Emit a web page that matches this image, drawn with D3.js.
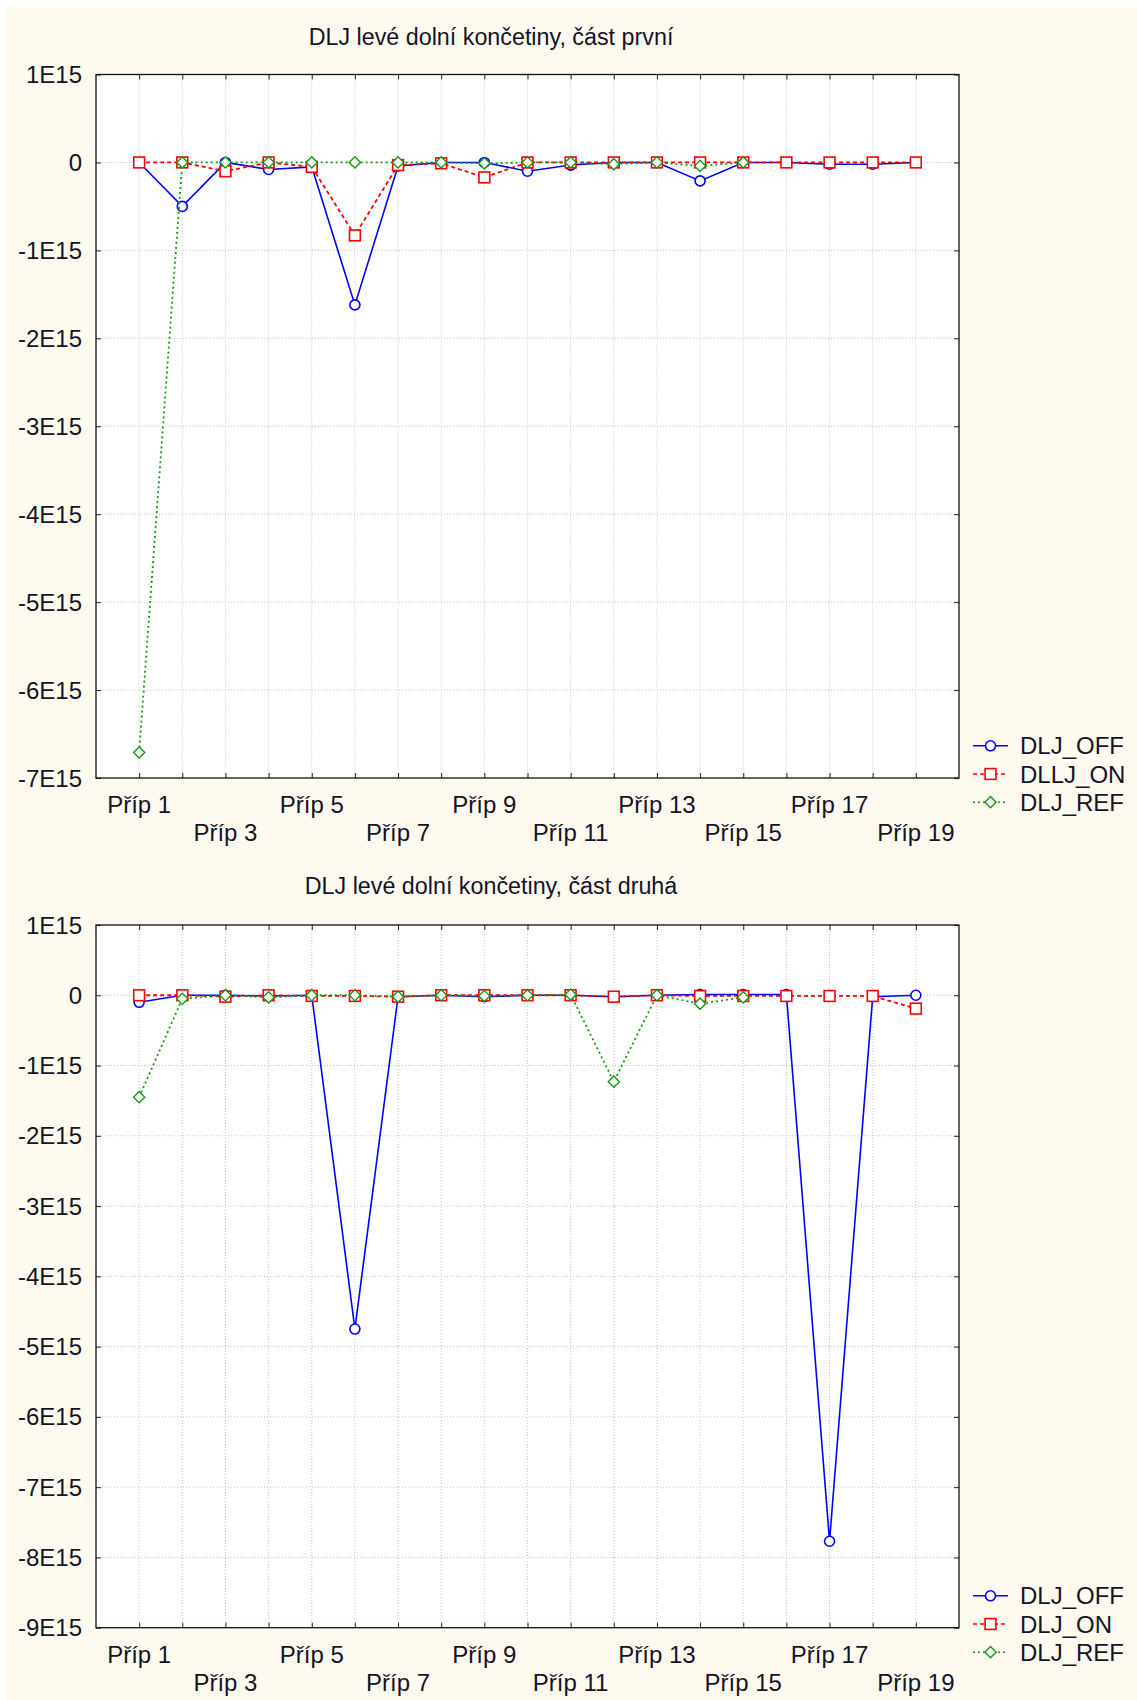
<!DOCTYPE html>
<html>
<head>
<meta charset="utf-8">
<script src="https://cdn.jsdelivr.net/npm/d3@7"></script>
<style>
  html, body { margin: 0; padding: 0; background: #ffffff; }
  svg { display: block; }
  text { font-family: "Liberation Sans", Arial, sans-serif; fill: #141428; }
</style>
</head>
<body>
<svg id="chart" width="1137" height="1700"></svg>
<script>
// ---------- DATA ----------
const categories = ["Příp 1","Příp 2","Příp 3","Příp 4","Příp 5","Příp 6","Příp 7","Příp 8","Příp 9","Příp 10",
                    "Příp 11","Příp 12","Příp 13","Příp 14","Příp 15","Příp 16","Příp 17","Příp 18","Příp 19"];

// chart 1 (values in units of 1E15)
const title1 = "DLJ levé dolní končetiny, část první";
const names1 = ["DLJ_OFF", "DLLJ_ON", "DLJ_REF"];
const off1 = [0, -0.5, 0, -0.08, -0.05, -1.62, -0.04, 0, 0, -0.1, -0.03, 0, 0, -0.21, 0, 0, -0.02, -0.02, 0];
const on1  = [0, 0, -0.1, 0, -0.05, -0.83, -0.03, -0.01, -0.17, 0, 0, 0, 0, 0, 0, 0, 0, 0, 0];
const ref1 = [-6.71, 0, 0, 0, 0, 0, 0, 0, -0.01, 0, 0, -0.02, 0, -0.04, 0, null, null, null, null];
const yTicks1 = [1, 0, -1, -2, -3, -4, -5, -6, -7];

// chart 2 (values in units of 1E15)
const title2 = "DLJ levé dolní končetiny, část druhá";
const names2 = ["DLJ_OFF", "DLJ_ON", "DLJ_REF"];
const off2 = [-0.1, 0, 0, -0.01, 0, -4.75, -0.02, 0, -0.02, 0, 0, -0.02, 0, 0.01, 0.01, 0.01, -7.77, -0.02, 0];
const on2  = [0, 0, -0.02, 0, -0.01, -0.01, -0.02, 0, 0, 0, 0, -0.02, 0, -0.01, -0.01, -0.01, -0.01, -0.01, -0.19];
const ref2 = [-1.45, -0.05, 0, -0.03, 0, 0, -0.02, 0, -0.01, 0, 0.01, -1.23, 0, -0.12, -0.03, null, null, null, null];
const yTicks2 = [1, 0, -1, -2, -3, -4, -5, -6, -7, -8, -9];

// ---------- DRAW ----------
const svg = d3.select("#chart");
svg.append("rect").attr("x", 6).attr("y", 5).attr("width", 1131).attr("height", 1695).attr("fill", "#fffaef");

const styles = [
  { color: "#0000ff", dash: null, marker: "circle" },
  { color: "#ff0000", dash: "4,3", marker: "square" },
  { color: "#139a13", dash: "2,3", marker: "diamond" }
];

function tickLabel(v) { return v === 0 ? "0" : (v + "E15"); }

function drawMarker(g, type, x, y, color) {
  if (type === "circle") {
    g.append("circle").attr("cx", x).attr("cy", y).attr("r", 5)
      .attr("fill", "#fff").attr("stroke", color).attr("stroke-width", 1.6);
  } else if (type === "square") {
    g.append("rect").attr("x", x - 5.4).attr("y", y - 5.4).attr("width", 10.8).attr("height", 10.8)
      .attr("fill", "#fff").attr("stroke", color).attr("stroke-width", 1.6);
  } else {
    const s = 5.6;
    g.append("path").attr("d", `M${x},${y - s}L${x + s},${y}L${x},${y + s}L${x - s},${y}Z`)
      .attr("fill", "#fff").attr("stroke", color).attr("stroke-width", 1.4);
  }
}

function drawChart(cfg) {
  const { top, bottom, yMax, yMin, yTicks, series, names, title, titleY, legendY } = cfg;
  const left = 96, right = 959;
  const x = d3.scaleLinear().domain([0, 20]).range([left, right]);
  const y = d3.scaleLinear().domain([yMin, yMax]).range([bottom, top]);
  const g = svg.append("g");

  g.append("rect").attr("x", left).attr("y", top).attr("width", right - left).attr("height", bottom - top)
    .attr("fill", "#ffffff");

  const grid = g.append("g");
  categories.forEach((c, i) => {
    grid.append("line").attr("x1", x(i + 1)).attr("x2", x(i + 1)).attr("y1", top).attr("y2", bottom)
      .attr("stroke", "#c4c4c4").attr("stroke-width", 1).attr("stroke-dasharray", "1,2");
  });
  yTicks.forEach(t => {
    if (t === yMax || t === yMin) return;
    grid.append("line").attr("x1", left).attr("x2", right).attr("y1", y(t)).attr("y2", y(t))
      .attr("stroke", "#c4c4c4").attr("stroke-width", 1).attr("stroke-dasharray", "1,2");
  });

  const xVals = categories.map((c, i) => i + 1);
  g.append("g").attr("transform", `translate(0,${bottom})`)
    .call(d3.axisBottom(x).tickValues(xVals).tickSize(-5).tickFormat(""))
    .call(a => { a.select(".domain").remove(); a.selectAll("line").attr("stroke", "#222"); });
  g.append("g").attr("transform", `translate(0,${top})`)
    .call(d3.axisTop(x).tickValues(xVals).tickSize(-5).tickFormat(""))
    .call(a => { a.select(".domain").remove(); a.selectAll("line").attr("stroke", "#222"); });
  g.append("g").attr("transform", `translate(${left},0)`)
    .call(d3.axisLeft(y).tickValues(yTicks).tickSize(-5).tickFormat(""))
    .call(a => { a.select(".domain").remove(); a.selectAll("line").attr("stroke", "#222"); });
  g.append("g").attr("transform", `translate(${right},0)`)
    .call(d3.axisRight(y).tickValues(yTicks).tickSize(-5).tickFormat(""))
    .call(a => { a.select(".domain").remove(); a.selectAll("line").attr("stroke", "#222"); });

  yTicks.forEach(t => {
    g.append("text").attr("x", 82).attr("y", y(t) + 8.5).attr("text-anchor", "end")
      .attr("font-size", 24).text(tickLabel(t));
  });
  categories.forEach((c, i) => {
    if (i % 2 === 1) return;
    const row = (i / 2) % 2;
    g.append("text").attr("x", x(i + 1)).attr("y", bottom + 35 + row * 28)
      .attr("text-anchor", "middle").attr("font-size", 24).text(c);
  });

  series.forEach((vals, si) => {
    const st = styles[si];
    const sg = g.append("g");
    const line = d3.line().defined(d => d != null).x((d, i) => x(i + 1)).y(d => y(d));
    sg.append("path").attr("d", line(vals)).attr("fill", "none").attr("stroke", st.color)
      .attr("stroke-width", si === 0 ? 1.6 : 1.8).attr("stroke-dasharray", st.dash);
    vals.forEach((v, i) => {
      if (v == null) return;
      drawMarker(sg, st.marker, x(i + 1), y(v), st.color);
    });
  });

  g.append("rect").attr("x", left).attr("y", top).attr("width", right - left).attr("height", bottom - top)
    .attr("fill", "none").attr("stroke", "#111").attr("stroke-width", 1.3);

  g.append("text").attr("x", 491).attr("y", titleY).attr("text-anchor", "middle")
    .attr("font-size", 23.3).text(title);

  names.forEach((n, i) => {
    const st = styles[i];
    const ly = legendY + i * 28.2;
    const lg = g.append("g");
    lg.append("line").attr("x1", 973).attr("x2", 1008).attr("y1", ly).attr("y2", ly)
      .attr("stroke", st.color).attr("stroke-width", 1.6).attr("stroke-dasharray", st.dash);
    drawMarker(lg, st.marker, 990.5, ly, st.color);
    lg.append("text").attr("x", 1020).attr("y", ly + 8.5).attr("font-size", 24).text(n);
  });
}

drawChart({
  top: 74.5, bottom: 778, yMax: 1, yMin: -7, yTicks: yTicks1,
  series: [off1, on1, ref1], names: names1, title: title1, titleY: 45, legendY: 745.8
});
drawChart({
  top: 925, bottom: 1627.7, yMax: 1, yMin: -9, yTicks: yTicks2,
  series: [off2, on2, ref2], names: names2, title: title2, titleY: 894, legendY: 1595.8
});
</script>
</body>
</html>
